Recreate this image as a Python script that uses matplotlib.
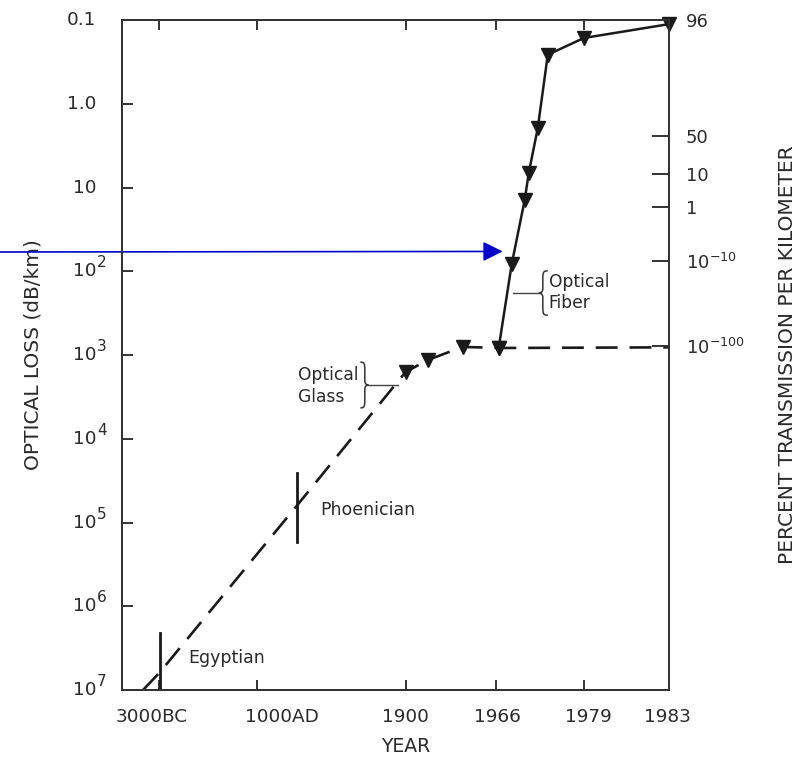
import matplotlib
matplotlib.use("Agg")
import matplotlib.pyplot as plt
from matplotlib.path import Path
from matplotlib.patches import PathPatch
from matplotlib.ticker import NullLocator
from matplotlib.transforms import Affine2D, ScaledTranslation

plt.rcParams['font.family'] = ['DejaVu Sans']
plt.rcParams['mathtext.default'] = 'regular'

# === данные (ось X нелинейная: позиции 0..100 вдоль оси)
year_labels = ["3000BC", "1000AD", "1900", "1966", "1979", "1983"]
year_pos = [5.5, 29.3, 51.8, 68.7, 85.3, 99.8]
tick_pos = [6.8, 24.6, 51.9, 68.3, 84.5]

# стекло: египетское -> финикийское -> оптическое стекло -> плато
glass_x = [3.85, 6.96, 32.05, 51.83, 55.86, 62.27, 68.86, 100]
glass_loss = [1e7, 6.1e6, 6.2e4, 1600, 1150, 800, 825, 810]
glass_marks = [3, 4, 5, 6]

# оптическое волокно
fiber_x = [68.86, 71.25, 73.63, 74.36, 76.01, 77.84, 84.43, 100]
fiber_loss = [825, 82, 14, 6.7, 1.95, 0.26, 0.164, 0.112]

left_ticks = [0.1, 1, 10, 1e2, 1e3, 1e4, 1e5, 1e6, 1e7]
left_bases = ["0.1", "1.0", "10", "10", "10", "10", "10", "10", "10"]
left_sups = ["", "", "", "2", "3", "4", "5", "6", "7"]

right_ticks = [0.1, 2.45, 6.98, 16.9, 74.8, 780]
right_labels = ["96", "50", "10", "1", "$10^{-10}$", "$10^{-100}$"]

ink = "#1a1a1a"
txt = "#2a2a2a"

fig = plt.figure(figsize=(8.07, 7.6), dpi=100)
ax = fig.add_axes([122 / 807, 1 - 690 / 760, 547 / 807, 670 / 760])
ax.set_yscale("log")
ax.set_xlim(0, 100)
ax.set_ylim(1e7, 0.1)
for s in ax.spines.values():
    s.set_linewidth(1.4)
    s.set_color("#333333")

# --- линии
ax.plot(glass_x, glass_loss, color=ink, lw=1.9, linestyle=(0, (8.3, 4.5)),
        marker="v", markersize=9.5, markevery=glass_marks, clip_on=False, zorder=3)
ax.plot(fiber_x, fiber_loss, color=ink, lw=1.8, marker="v", markersize=9.5,
        clip_on=False, zorder=4)

# вертикальные отметки эпох
ax.plot([6.96, 6.96], [2.1e6, 1e7], color=ink, lw=2.0)
ax.plot([32.05, 32.05], [2.57e4, 1.7e5], color=ink, lw=2.0)
ax.text(12.1, 4.2e6, "Egyptian", fontsize=12.5, color=txt, va="center", ha="left")
ax.text(36.3, 7.1e4, "Phoenician", fontsize=12.5, color=txt, va="center", ha="left")


def brace(x, y, h, w, direction):
    verts = [(-w, h / 2),
             (-0.45 * w, h / 2), (-0.45 * w, 0.45 * h), (-0.45 * w, 0.3 * h),
             (-0.45 * w, 0.1 * h),
             (-0.45 * w, 0.02 * h), (-0.2 * w, 0), (0, 0),
             (-0.2 * w, 0), (-0.45 * w, -0.02 * h), (-0.45 * w, -0.1 * h),
             (-0.45 * w, -0.3 * h),
             (-0.45 * w, -0.45 * h), (-0.45 * w, -h / 2), (-w, -h / 2)]
    codes = [Path.MOVETO] + [Path.CURVE4] * 3 + [Path.LINETO] + [Path.CURVE4] * 6 \
        + [Path.LINETO] + [Path.CURVE4] * 3
    k = fig.dpi / 72
    tr = Affine2D().scale(direction * k, k) + ScaledTranslation(x, y, ax.transData)
    ax.add_patch(PathPatch(Path(verts, codes), transform=tr, fill=False,
                           lw=1.1, edgecolor="#333333", clip_on=False))


# Optical Glass
brace(45.05, 2280, 33, 5.8, 1)
ax.plot([45.05, 50.37], [2280, 2280], color="#444444", lw=1.0)
ax.text(43.2, 2330, "Optical\nGlass", fontsize=12.3, color=txt, ha="right",
        va="center", multialignment="left", linespacing=1.25)

# Optical Fiber
brace(76.19, 182, 32, 6.5, -1)
ax.plot([71.43, 76.19], [182, 182], color="#444444", lw=1.0)
ax.text(78.0, 180, "Optical\nFiber", fontsize=12.3, color=txt, ha="left",
        va="center", multialignment="left", linespacing=1.25)

# --- ось X
ax.set_xticks(year_pos, year_labels)
ax.set_xticks(tick_pos, minor=True)
ax.tick_params(axis="x", which="major", length=0, pad=13, labelsize=13.3,
               labelcolor=txt)
ax.tick_params(axis="x", which="minor", direction="in", length=7, width=1.4,
               top=True, bottom=True, color="#333333")
ax.set_xlabel("YEAR", fontsize=13.5, color=txt, va="center")
ax.xaxis.set_label_coords(0.518, -0.0836)

# --- левая ось
ax.set_yticks(left_ticks)
ax.yaxis.set_minor_locator(NullLocator())
ax.set_yticklabels([])
ax.tick_params(axis="y", which="major", direction="in", length=8, width=1.4,
               color="#333333")
ytr = ax.get_yaxis_transform()
for val, base, sup in zip(left_ticks, left_bases, left_sups):
    ax.annotate(base, xy=(0, val), xycoords=ytr, xytext=(-18.5, 0),
                textcoords="offset points", ha="right", va="center",
                fontsize=13.3, color=txt)
    if sup:
        ax.annotate(sup, xy=(0, val), xycoords=ytr, xytext=(-18.0, 6),
                    textcoords="offset points", ha="left", va="center",
                    fontsize=11, color=txt)
ax.set_ylabel("OPTICAL LOSS (dB/km)", fontsize=14.5, color=txt, va="center")
ax.yaxis.set_label_coords(-0.163, 0.501)

# --- правая ось
ax2 = ax.twinx()
ax2.set_yscale("log")
ax2.set_ylim(1e7, 0.1)
ax2.set_yticks(right_ticks, right_labels)
ax2.yaxis.set_minor_locator(NullLocator())
ax2.tick_params(axis="y", which="major", direction="in", length=12, width=1.4,
                pad=12, labelsize=13, labelcolor=txt, color="#333333")
for s in ax2.spines.values():
    s.set_linewidth(1.4)
    s.set_color("#333333")
ax2.set_ylabel("PERCENT TRANSMISSION PER KILOMETER", fontsize=14.5, color=txt,
               va="center")
ax2.yaxis.set_label_coords(1.216, 0.501)

# --- синяя стрелка
ax.annotate("", xy=(69.6, 58), xycoords="data", xytext=(0, 1 - 252 / 760),
            textcoords="figure fraction",
            arrowprops=dict(arrowstyle="-|>,head_length=1.2,head_width=0.6",
                            color="#0000cc", lw=1.2, shrinkA=0, shrinkB=0))

fig.savefig("out.png", dpi=100)
